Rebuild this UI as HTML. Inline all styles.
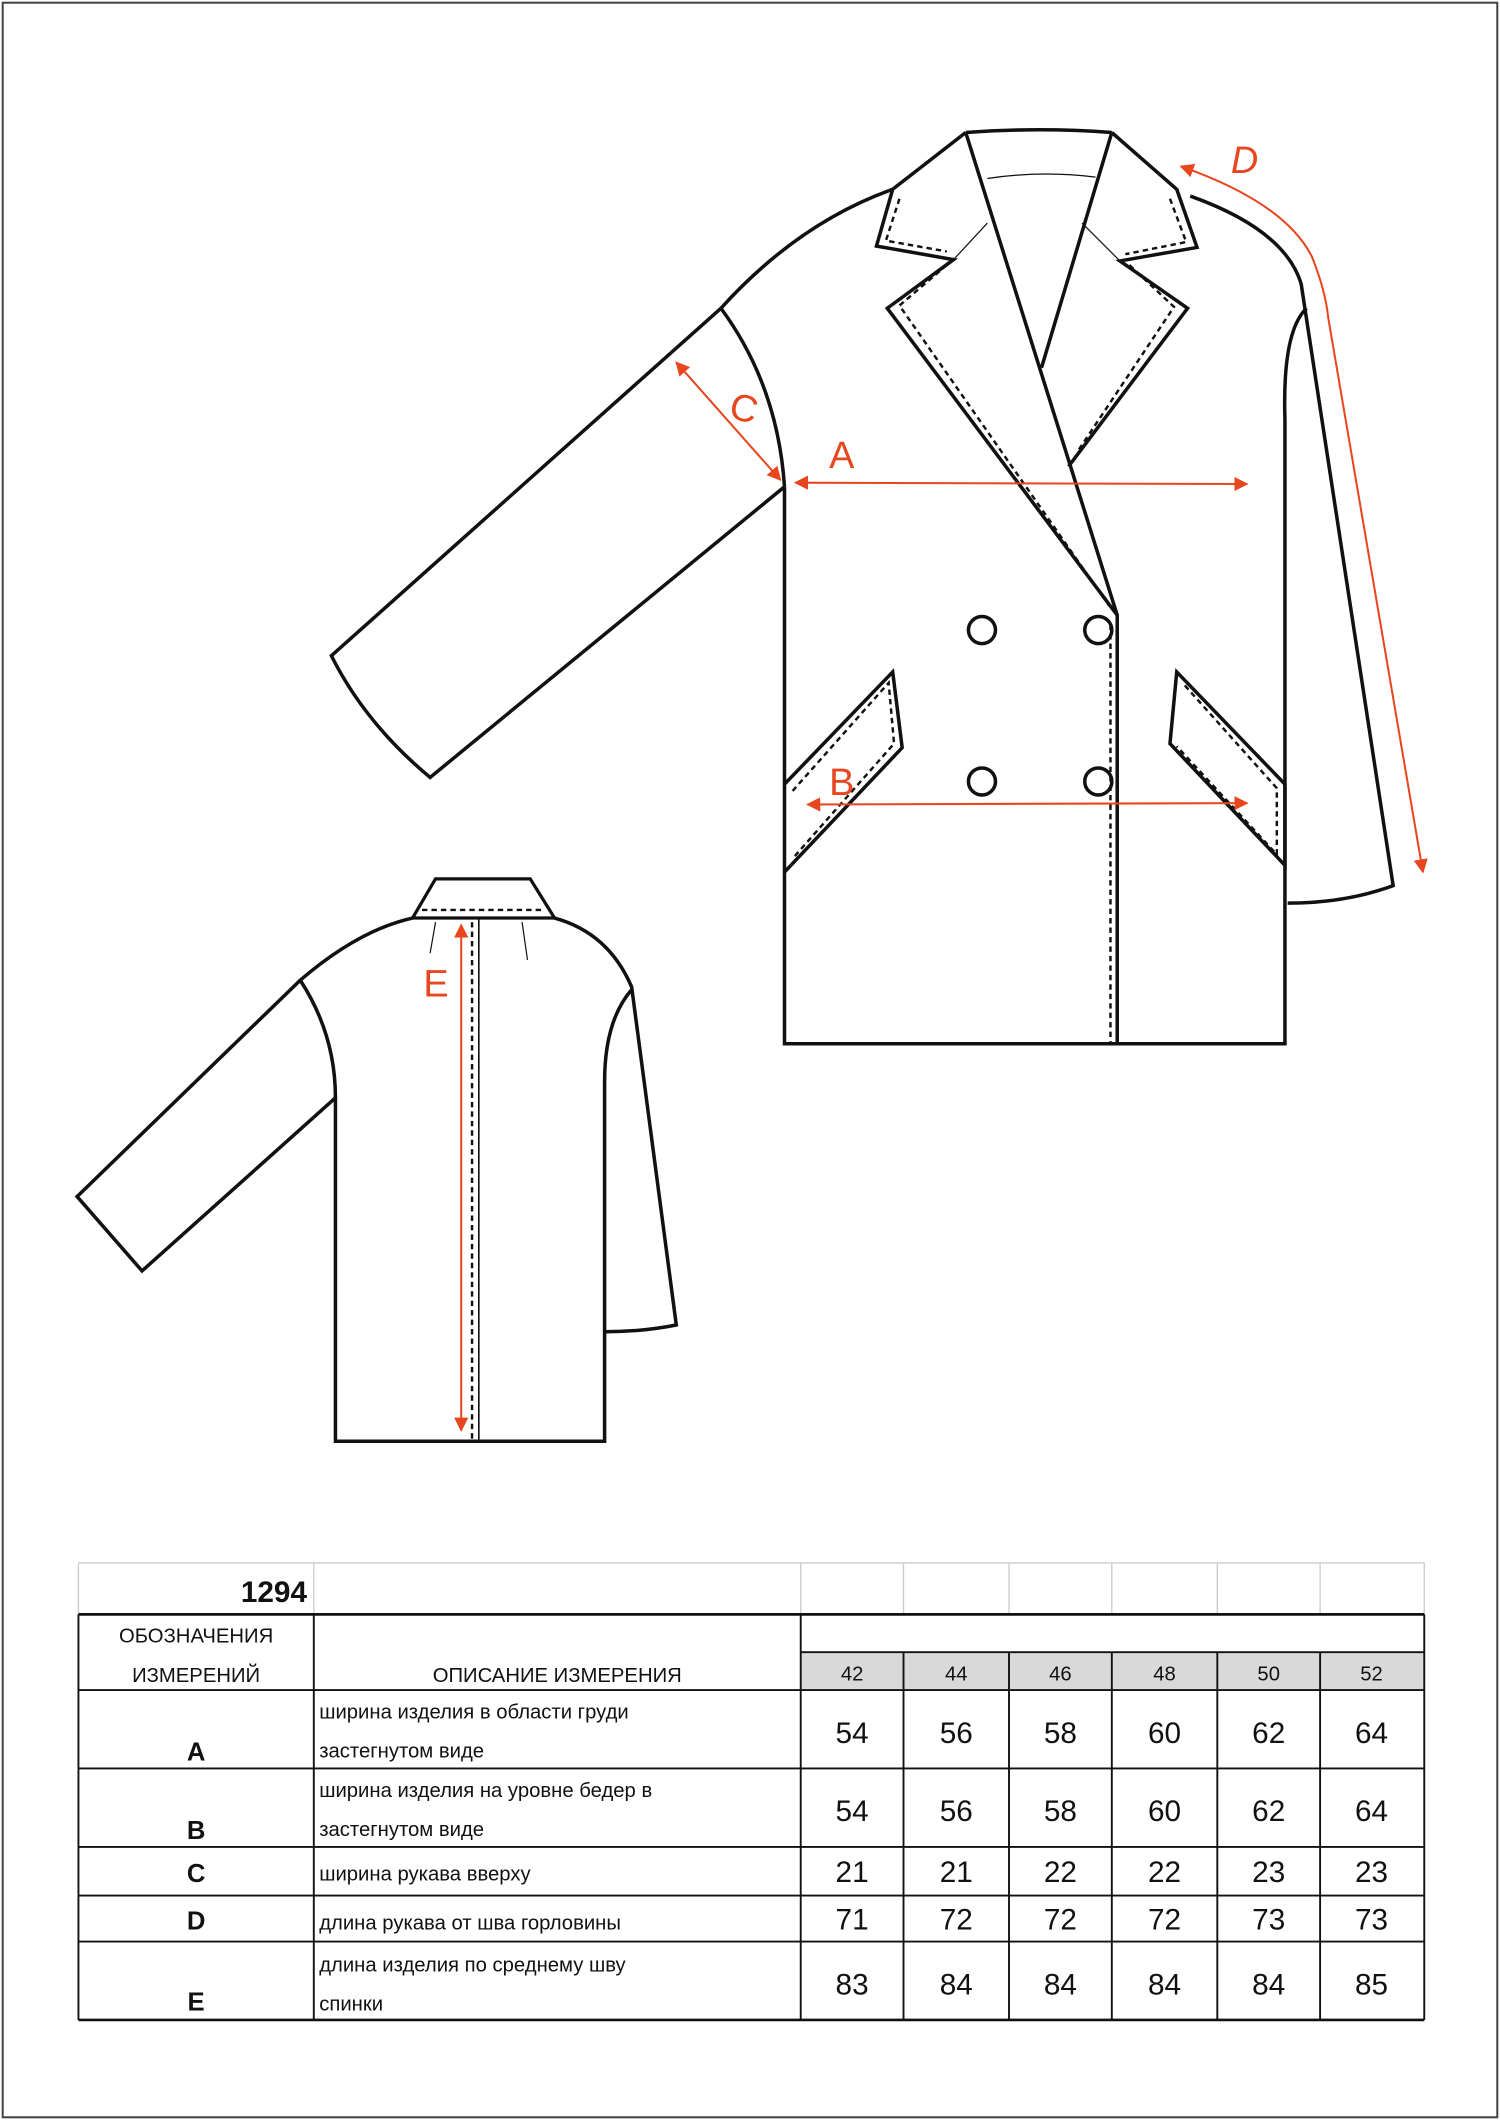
<!DOCTYPE html>
<html><head><meta charset="utf-8"><style>
html,body{margin:0;padding:0;background:#fff}
svg{display:block}
text{font-family:"Liberation Sans","DejaVu Sans",sans-serif}
</style></head><body>
<svg width="1500" height="2120" viewBox="0 0 1109 1568" preserveAspectRatio="none" xmlns="http://www.w3.org/2000/svg">
<defs>
<marker id="ar" viewBox="0 0 10 10" refX="9" refY="5" markerWidth="7" markerHeight="7" orient="auto-start-reverse"><path d="M0,0 L10,5 L0,10 z" fill="#e8461e"/></marker>
</defs>
<rect x="2" y="2" width="1105" height="1564" fill="#fff" stroke="#444" stroke-width="1.5"/>

<g fill="none" stroke="#111" stroke-width="2.6" stroke-linejoin="miter">
<path d="M533,228 L245,485 Q270,535 318,575 L580,360"/>
<path d="M533,228 Q575,285 580,360"/>
<path d="M533,228 Q590,165 660,140"/>
<path d="M580,360 L580,772 L950,772 L950,310 Q948,245 966,228"/>
<path d="M880,145 Q950,170 962,210 L1030,655 Q995,668 952,668"/>
<path d="M714,98 Q768,94 822,98"/>
<path d="M714,98 L660,140 L648,182 L705,192 L656,228 L826,455"/>
<path d="M714,98 L826,455 L826,772"/>
<path d="M822,98 L770,272"/>
<path d="M822,98 L870,140 L885,183 L828,193 L878,228 L790,345"/>
<path d="M580,580 L660,497 L667,553 L580,645"/>
<path d="M870,497 L950,580 L950,640 L865,550 Z"/>
<circle cx="726" cy="466" r="10"/><circle cx="812" cy="466" r="10"/>
<circle cx="726" cy="578" r="10"/><circle cx="812" cy="578" r="10"/>

<path d="M305,679 L322,650 L392,650 L410,679 Z" stroke-width="2.4"/>
<path d="M305,679 Q265,688 222,725 L57,885 L105,940 L248,812"/>
<path d="M222,725 Q248,765 248,812 L248,1066 L447,1066 L447,800 Q447,755 467,732"/>
<path d="M410,679 Q450,690 467,730 L500,980 Q475,985 447,985"/>
<path d="M354,679 L354,1066" stroke-width="1.2"/>
</g>

<g fill="none" stroke="#111" stroke-width="1.8" stroke-dasharray="4,3">
<path d="M665,147 L655,178 L700,186"/>
<path d="M700,196 L665,226 L820,448"/>
<path d="M865,147 L877,179 L832,188"/>
<path d="M835,196 L868,227 L796,335"/>
<path d="M821,462 L821,772"/>
<path d="M586,585 L657,505 L661,550 L586,635"/>
<path d="M876,507 L944,583 L944,632 L870,552"/>
<path d="M312,673 L403,673"/>
<path d="M349,682 L349,1066"/>
</g>
<g fill="none" stroke="#111" stroke-width="0.9">
<path d="M730,132 Q770,126 810,131"/>
<path d="M705,192 L730,165"/><path d="M828,193 L800,165"/>
<path d="M322,682 L318,705"/><path d="M386,682 L390,710"/>
</g>

<g fill="none" stroke="#e8461e" stroke-width="1.5" marker-start="url(#ar)" marker-end="url(#ar)">
<path d="M588,357 L922,358"/>
<path d="M597,595 L922,594"/>
<path d="M500,268 L577,355"/>
<path d="M873,123 Q950,150 970,190 Q980,215 982,235 L1052,645"/>
<path d="M341,684 L341,1058"/>
</g>
<g fill="#e8461e" font-size="28">
<text x="613" y="346">A</text>
<text x="613" y="588">B</text>
<text x="540" y="312" transform="rotate(15 552 302)">C</text>
<text x="910" y="128" font-style="italic">D</text>
<text x="313" y="737">E</text>
</g>

<g stroke="#ccc" stroke-width="1" fill="none">
<path d="M58,1156 L1053,1156"/>
<path d="M58,1156 L58,1194 M232,1156 L232,1194 M592,1156 L592,1194 M668,1156 L668,1194 M746,1156 L746,1194 M822,1156 L822,1194 M900,1156 L900,1194 M976,1156 L976,1194 M1053,1156 L1053,1194"/>
</g>
<rect x="592" y="1222" width="461" height="28" fill="#d9d9d9"/>
<g stroke="#111" stroke-width="1.4" fill="none">
<path d="M58,1194 L1053,1194" stroke-width="2"/>
<path d="M592,1222 L1053,1222"/>
<path d="M58,1250 L1053,1250 M58,1308 L1053,1308 M58,1366 L1053,1366 M58,1402 L1053,1402 M58,1436 L1053,1436"/>
<path d="M58,1494 L1053,1494" stroke-width="2"/>
<path d="M58,1194 L58,1494 M232,1194 L232,1494 M592,1194 L592,1494 M1053,1194 L1053,1494"/>
<path d="M668,1222 L668,1494 M746,1222 L746,1494 M822,1222 L822,1494 M900,1222 L900,1494 M976,1222 L976,1494"/>
</g>
<g fill="#111" font-size="15">
<text x="227" y="1185" font-size="22" font-weight="bold" text-anchor="end">1294</text>
<text x="145" y="1215" text-anchor="middle">ОБОЗНАЧЕНИЯ</text>
<text x="145" y="1244" text-anchor="middle">ИЗМЕРЕНИЙ</text>
<text x="412" y="1244" text-anchor="middle">ОПИСАНИЕ ИЗМЕРЕНИЯ</text>
<g text-anchor="middle">
<text x="630" y="1243">42</text><text x="707" y="1243">44</text><text x="784" y="1243">46</text><text x="861" y="1243">48</text><text x="938" y="1243">50</text><text x="1014" y="1243">52</text>
</g>
<g font-size="19" font-weight="bold" text-anchor="middle">
<text x="145" y="1302">A</text><text x="145" y="1360">B</text><text x="145" y="1392">C</text><text x="145" y="1427">D</text><text x="145" y="1487">E</text>
</g>
<text x="236" y="1271">ширина изделия в области груди</text>
<text x="236" y="1300">застегнутом виде</text>
<text x="236" y="1329">ширина изделия  на уровне бедер в</text>
<text x="236" y="1358">застегнутом виде</text>
<text x="236" y="1391">ширина рукава вверху</text>
<text x="236" y="1427">длина рукава от шва горловины</text>
<text x="236" y="1458">длина изделия по среднему шву</text>
<text x="236" y="1487">спинки</text>
<g font-size="22" text-anchor="middle">
<text x="630" y="1289">54</text><text x="707" y="1289">56</text><text x="784" y="1289">58</text><text x="861" y="1289">60</text><text x="938" y="1289">62</text><text x="1014" y="1289">64</text>
<text x="630" y="1347">54</text><text x="707" y="1347">56</text><text x="784" y="1347">58</text><text x="861" y="1347">60</text><text x="938" y="1347">62</text><text x="1014" y="1347">64</text>
<text x="630" y="1392">21</text><text x="707" y="1392">21</text><text x="784" y="1392">22</text><text x="861" y="1392">22</text><text x="938" y="1392">23</text><text x="1014" y="1392">23</text>
<text x="630" y="1427">71</text><text x="707" y="1427">72</text><text x="784" y="1427">72</text><text x="861" y="1427">72</text><text x="938" y="1427">73</text><text x="1014" y="1427">73</text>
<text x="630" y="1475">83</text><text x="707" y="1475">84</text><text x="784" y="1475">84</text><text x="861" y="1475">84</text><text x="938" y="1475">84</text><text x="1014" y="1475">85</text>
</g>
</g>
</svg>
</body></html>
